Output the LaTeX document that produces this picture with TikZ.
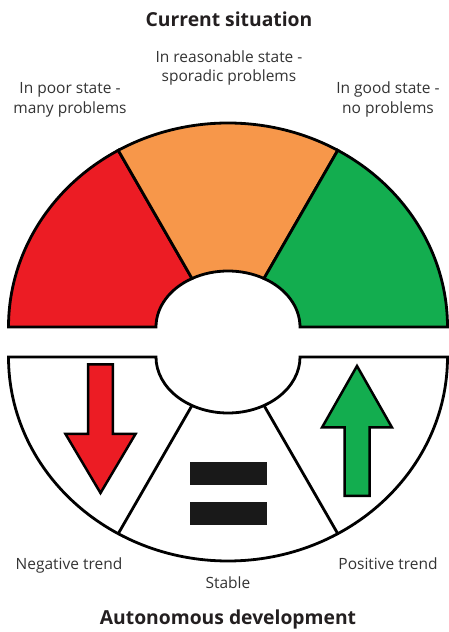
\documentclass[tikz,border=0pt]{standalone}
\usepackage{fontspec}
\setmainfont{Open Sans}
\definecolor{cred}{HTML}{EC1C24}
\definecolor{corange}{HTML}{F7974A}
\definecolor{cgreen}{HTML}{13AD4F}
\definecolor{ctext}{HTML}{333333}
\definecolor{ctitle}{HTML}{231F20}
\begin{document}
\begin{tikzpicture}[x=1pt,y=1pt,
  sector/.style={draw=black,line width=2.8pt},
  arrowshape/.style={draw=black,line width=2.5pt,line join=miter},
  bar/.style={fill=black!90},
  label/.style={font=\fontsize{15.5}{19.3}\selectfont,text=ctext,align=center,inner sep=0pt,anchor=base},
  title/.style={font=\fontsize{19.3}{23}\selectfont\bfseries,text=ctitle,inner sep=0pt,anchor=base}]
\useasboundingbox (0,0) rectangle (449,632);
% top half: current situation
\filldraw[sector,fill=cred] (8.5,305) arc[start angle=180,end angle=120,x radius=219.5,y radius=204]
  -- (192,353.5) arc[start angle=120,end angle=180,x radius=72,y radius=56] -- cycle;
\filldraw[sector,fill=corange] (118.25,481.67) arc[start angle=120,end angle=60,x radius=219.5,y radius=204]
  -- (264,353.5) arc[start angle=60,end angle=120,x radius=72,y radius=56] -- cycle;
\filldraw[sector,fill=cgreen] (337.75,481.67) arc[start angle=60,end angle=0,x radius=219.5,y radius=204]
  -- (300,305) arc[start angle=0,end angle=60,x radius=72,y radius=56] -- cycle;
% bottom half: autonomous development
\filldraw[sector,fill=white] (8.5,275) -- (156,275) arc[start angle=180,end angle=360,x radius=72,y radius=56]
  -- (447.5,275) arc[start angle=0,end angle=-180,x radius=219.5,y radius=204] -- cycle;
\draw[sector] (192,226.5) -- (118.25,98.33);
\draw[sector] (264,226.5) -- (337.75,98.33);
% arrows and equal sign
\filldraw[arrowshape,fill=cred] (88.2,267.5) -- (112.8,267.5) -- (112.8,198) -- (135.5,198) -- (100.5,139)
  -- (65.5,198) -- (88.2,198) -- cycle;
\filldraw[arrowshape,fill=cgreen] (357,266) -- (392,204.5) -- (369.5,204.5) -- (369.5,136) -- (344.5,136)
  -- (344.5,204.5) -- (322,204.5) -- cycle;
\fill[bar] (190,147) rectangle (267,170);
\fill[bar] (190,107) rectangle (267,130);
% texts
\node[title] (tcur) at (229,605) {Current situation};
\node[label] (treas) at (229,550) {In reasonable state -\\sporadic problems};
\node[label] (tpoor) at (70,518.7) {In poor state -\\many problems};
\node[label] (tgood) at (388,518.7) {In good state -\\no problems};
\node[label] (tneg) at (69,62) {Negative trend};
\node[label] (tpos) at (388,62) {Positive trend};
\node[label] (tstab) at (228,43) {Stable};
\node[title] (tauto) at (228,7) {Autonomous development};
\end{tikzpicture}
\end{document}
